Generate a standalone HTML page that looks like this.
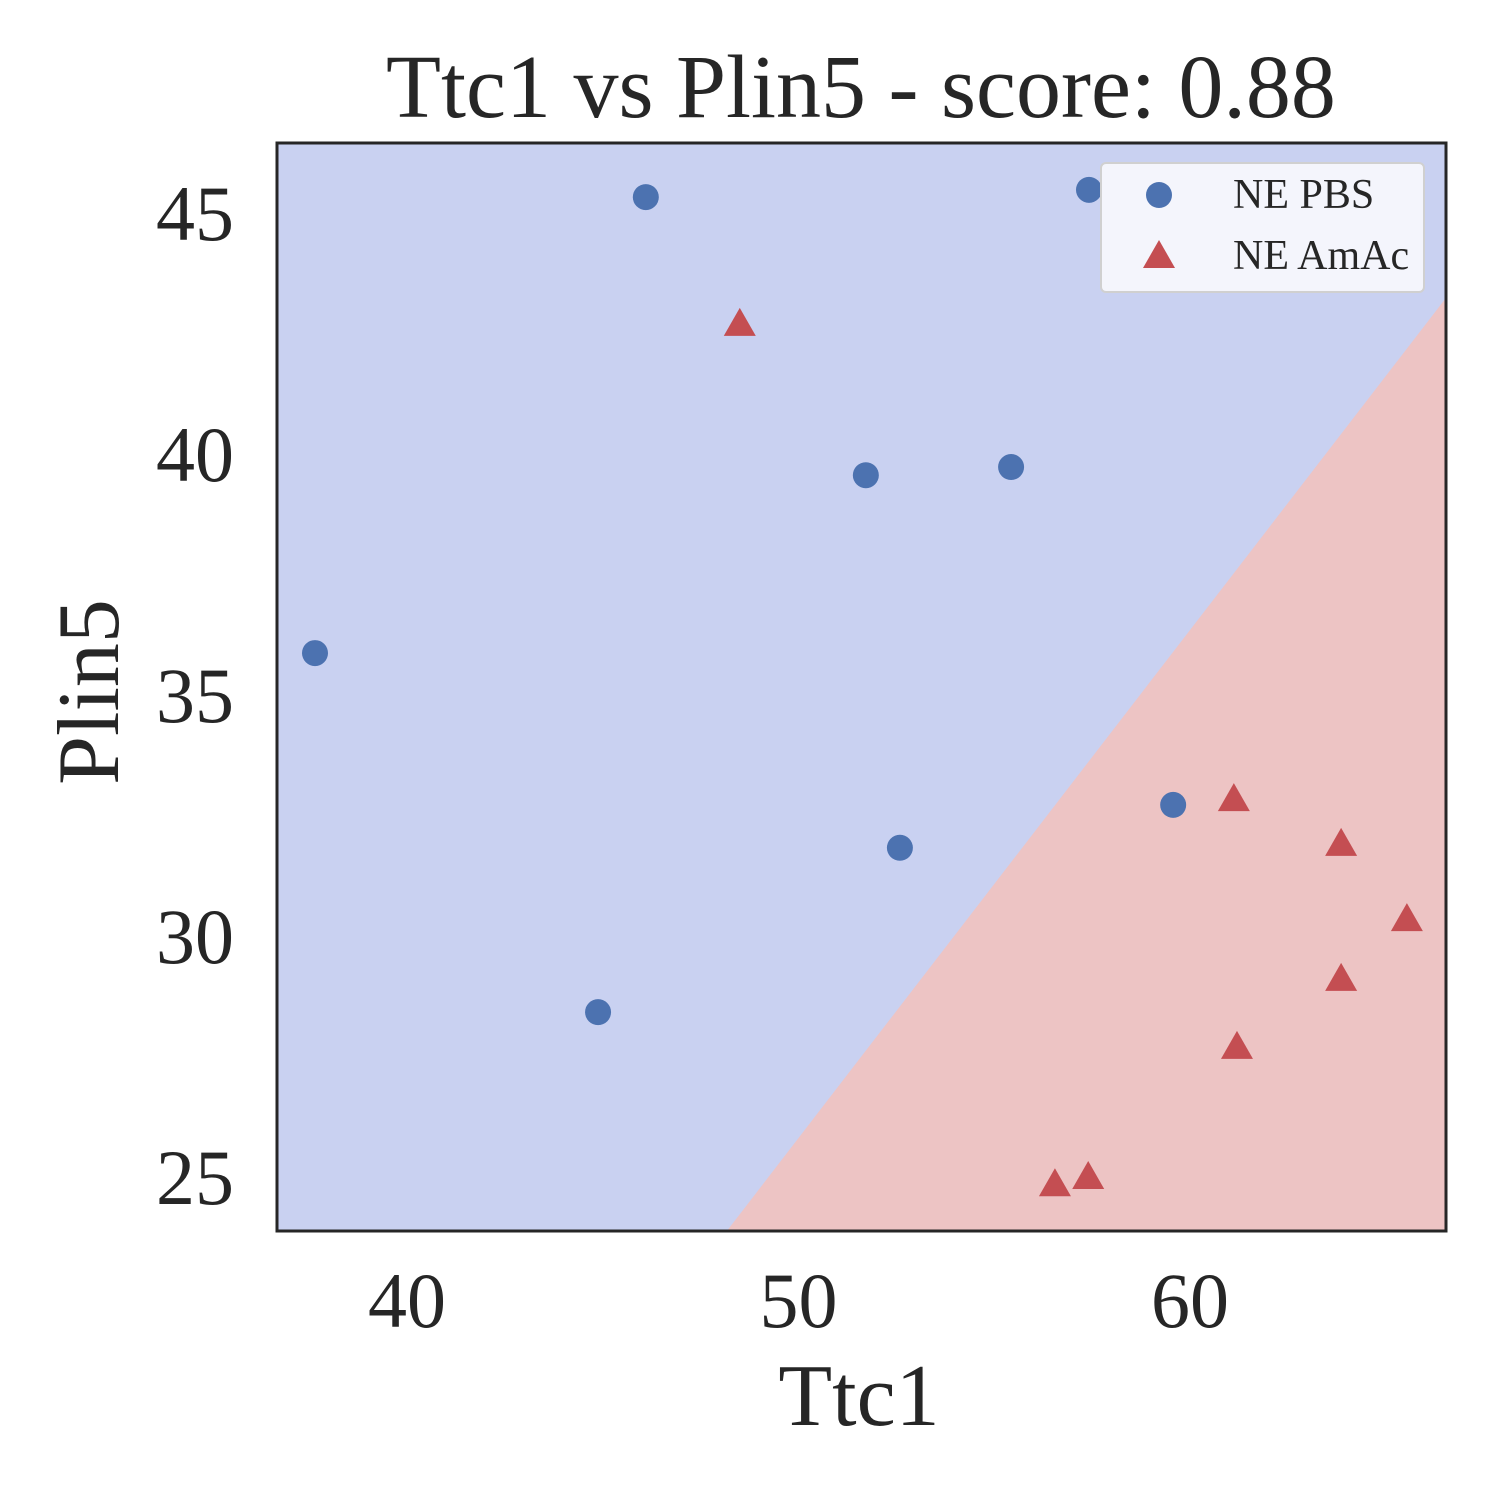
<!DOCTYPE html>
<html><head><meta charset="utf-8"><style>
html,body{margin:0;padding:0;background:#fff;}
svg{display:block;font-family:"Liberation Serif",serif;}
</style></head><body>
<svg id="chart" width="1500" height="1500" viewBox="0 0 1500 1500" xmlns="http://www.w3.org/2000/svg">
<defs><clipPath id="clip"><rect x="277" y="143" width="1169" height="1088"/></clipPath></defs>
<text x="861" y="117" font-size="90" text-anchor="middle" fill="#262626">Ttc1 vs Plin5 - score: 0.88</text>
<rect x="277" y="143" width="1169" height="1088" fill="#c9d1f1"/>
<polygon id="region" fill="#edc4c4" clip-path="url(#clip)"/>
<g id="marks" clip-path="url(#clip)"></g>
<g id="xticks"></g><g id="yticks"></g>
<rect x="277" y="143" width="1169" height="1088" fill="none" stroke="#262626" stroke-width="3"/>
<text x="859" y="1425" font-size="88" text-anchor="middle" fill="#262626">Ttc1</text>
<text x="0" y="0" font-size="88" text-anchor="middle" fill="#262626" transform="translate(118,692) rotate(-90)">Plin5</text>
<g>
<rect x="1101" y="163" width="323" height="129" rx="5" fill="#f4f5fc" stroke="#d0d0d0" stroke-width="2"/>
<circle cx="1159" cy="195" r="13" fill="#4c72b0"/>
<text x="1233" y="208" font-size="42" fill="#262626">NE PBS</text>
<polygon points="1159,240 1175,268 1143,268" fill="#c44e52"/>
<text x="1233" y="269" font-size="42" fill="#262626">NE AmAc</text>
</g>
</svg>
<script>
const pbsX=[46.1,57.42,51.72,55.43,37.65,59.57,52.59,44.88];
const pbsY=[45.33,45.48,39.56,39.73,35.87,32.72,31.83,28.42];
const amacX=[48.5,61.12,63.86,65.54,63.86,61.2,56.55,57.4];
const amacY=[42.68,32.82,31.89,30.33,29.09,27.68,24.83,24.98];
const xTicks=[40,50,60];
const yTicks=[25,30,35,40,45];
const boundaryX=[48.17,66.54];
const boundaryY=[23.88,43.24];
const X=v=>407+(v-40)*39.15;
const Y=v=>1177-(v-25)*48.2;
const NS="http://www.w3.org/2000/svg";
const marks=document.getElementById('marks');
const reg=document.getElementById('region');
reg.setAttribute('points',`${X(boundaryX[0])},${Y(boundaryY[0])} ${X(boundaryX[1])},${Y(boundaryY[1])} ${X(boundaryX[1])},${Y(23.88)}`);
pbsX.forEach((v,i)=>{
  const c=document.createElementNS(NS,'circle');
  c.setAttribute('cx',X(v));c.setAttribute('cy',Y(pbsY[i]));c.setAttribute('r',13);c.setAttribute('fill','#4c72b0');
  
  
  marks.appendChild(c);
});
amacX.forEach((v,i)=>{
  const x=X(v),y=Y(amacY[i]);
  const p=document.createElementNS(NS,'polygon');
  p.setAttribute('points',`${x},${y-17} ${x+16},${y+11} ${x-16},${y+11}`);p.setAttribute('fill','#c44e52');
  
  
  marks.appendChild(p);
});
const xt=document.getElementById('xticks');
xTicks.forEach(v=>{
  const t=document.createElementNS(NS,'text');
  t.setAttribute('x',X(v));t.setAttribute('y',1327);t.setAttribute('font-size',78);t.setAttribute('text-anchor','middle');t.setAttribute('fill','#262626');
  t.textContent=v;
  
  
  xt.appendChild(t);
});
const yt=document.getElementById('yticks');
yTicks.forEach(v=>{
  const t=document.createElementNS(NS,'text');
  t.setAttribute('x',234);t.setAttribute('y',Y(v)+27);t.setAttribute('font-size',78);t.setAttribute('text-anchor','end');t.setAttribute('fill','#262626');
  t.textContent=v;
  
  
  yt.appendChild(t);
});
</script>
</body></html>
